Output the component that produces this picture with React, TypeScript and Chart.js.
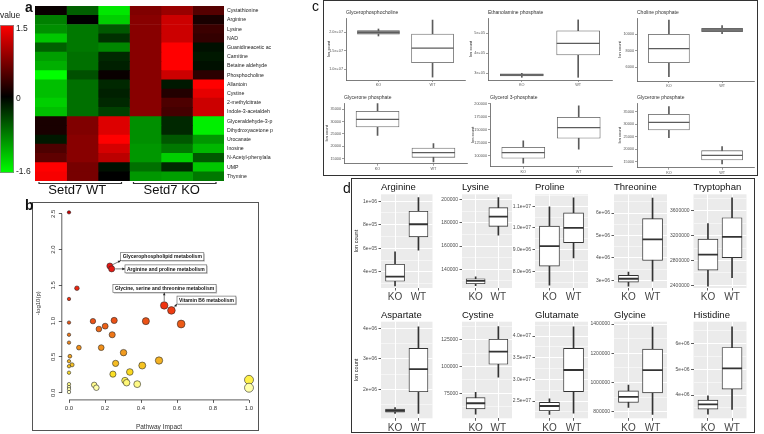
import React, { useEffect, useRef } from "react";
import { Chart, registerables } from "chart.js";

Chart.register(...registerables);
const FONT = '"Liberation Sans", Arial, Helvetica, sans-serif';
Chart.defaults.font.family = FONT;

type Rect = { x: number; y: number; w: number; h: number };

/* ---------------- panel a : heat map ---------------- */
const heatRows = [
  "Cystathionine", "Arginine", "Lysine", "NAD", "Guanidineacetic ac", "Carnitine",
  "Betaine aldehyde", "Phosphocholine", "Allantoin", "Cystine", "2-methylcitrate",
  "Indole-3-acetaldeh", "Glyceraldehyde-3-p", "Dihydroxyacetone p", "Urocanate",
  "Inosine", "N-Acetyl-phenylala", "UMP", "Thymine",
];
const heatSamples = ["WT1", "WT2", "WT3", "KO1", "KO2", "KO3"];
const heatGroups = ["Setd7 WT", "Setd7 KO"];
const heatValues = [
  [0.05, -0.6, -1.45, 0.75, 0.9, 0.5],
  [-0.8, 0.0, -1.3, 0.8, 1.2, 0.15],
  [-0.9, -0.75, -0.55, 0.8, 1.2, 0.35],
  [-1.25, -0.75, -0.3, 0.8, 1.2, 0.3],
  [-0.6, -0.75, -0.85, 0.8, 1.5, -0.1],
  [-1.0, -0.7, -0.25, 0.8, 1.5, -0.15],
  [-1.1, -0.7, -0.2, 0.8, 1.5, -0.1],
  [-1.6, -0.5, 0.05, 0.8, 1.2, 0.25],
  [-1.2, -0.7, -0.25, 0.8, -0.15, 1.5],
  [-1.2, -0.7, -0.2, 0.8, 0.2, 1.35],
  [-1.3, -0.7, -0.25, 0.8, 0.45, 1.2],
  [-1.2, -0.7, -0.4, 0.8, 0.4, 1.2],
  [0.15, 0.75, 1.3, -0.9, -0.25, -1.5],
  [0.15, 0.75, 1.3, -0.9, -0.25, -1.5],
  [-0.15, 0.8, 1.5, -0.9, -0.55, -0.95],
  [0.45, 0.8, 1.25, -0.95, -0.75, -1.15],
  [0.55, 0.8, 1.1, -0.95, -1.3, -0.55],
  [1.5, 0.7, -0.1, -0.7, -0.25, -1.25],
  [1.45, 0.7, 0.0, -0.95, -1.0, -0.75],
];
const heatKeyTicks = [1.5, 0, -1.6];
const heatKeyLabels = ["1.5", "0", "-1.6"];

/* ---------------- panel b : pathway impact ---------------- */
const pathImpact = [
  0, 0.227, 0.237, 0.044, 0, 0.529, 0.569, 0.623, 0.427, 0.133,
  0.251, 0, 0.166, 0.201, 0.24, 0, 0, 0.055, 0.179, 0.303,
  0.5, 0.259, 0.407, 0.005, 0, 0.017, 0, 0, 0.338, 0.244,
  0.311, 0.32, 0.379, 0.14, 0.152, 0, 0, 0, 0, 1.0, 1.0,
];
const pathLogP = [
  2.52, 1.77, 1.73, 1.46, 1.31, 1.22, 1.15, 0.96, 1.0, 1.0,
  1.01, 0.98, 0.89, 0.93, 0.81, 0.81, 0.7, 0.63, 0.63, 0.56,
  0.45, 0.41, 0.38, 0.51, 0.44, 0.39, 0.37, 0.28, 0.29, 0.26,
  0.17, 0.14, 0.12, 0.11, 0.07, 0.12, 0.08, 0.05, 0.01, 0.18, 0.07,
];
const pathTicksX = [0, 0.2, 0.4, 0.6, 0.8, 1.0];
const pathTicksY = [0, 0.5, 1.0, 1.5, 2.0, 2.5];
const annotNames = [
  "Glycerophospholipid metabolism",
  "Arginine and proline metabolism",
  "Glycine, serine and threonine metabolism",
  "Vitamin B6 metabolism",
];
const annotPoint = [1, 2, 5, 6];
const annotBoxX = [0.287, 0.311, 0.244, 0.6];
const annotBoxY = [1.9, 1.73, 1.454, 1.294];
const annotAttach = ["corner", "left", "bottom", "corner"];

/* ---------------- panel c : box plots ---------------- */
const groups = ["KO", "WT"];
const cTitles = [
  "Glycerophosphocholine", "Ethanolamine phosphate", "Choline phosphate",
  "Glycerone phosphate", "Glycerol 3-phosphate", "Glycerone phosphate",
];
const cRanges = [
  [0.711e7, 2.386e7], [2.665e5, 5.765e5], [4355, 11922],
  [12975, 37551], [78700, 201900], [12600, 38480],
];
const cTicks = [
  [1.0e7, 1.5e7, 2.0e7], [3e5, 4e5, 5e5], [6000, 8000, 10000],
  [15000, 20000, 25000, 30000, 35000], [100000, 125000, 150000, 175000, 200000],
  [15000, 20000, 25000, 30000, 35000],
];
const cTickLabels = [
  ["1.0e+07", "1.5e+07", "2.0e+07"], ["3e+05", "4e+05", "5e+05"], ["6000", "8000", "10000"],
  ["15000", "20000", "25000", "30000", "35000"],
  ["100000", "125000", "150000", "175000", "200000"],
  ["15000", "20000", "25000", "30000", "35000"],
];
const cKO = [
  [1.9e7, 1.946e7, 2.0e7, 2.043e7, 2.089e7],
  [2.8e5, 2.87e5, 2.92e5, 2.97e5, 3.0e5],
  [4871, 6552, 8236, 9964, 11680],
  [24473, 27833, 30951, 34190, 37267],
  [85300, 95000, 105800, 116300, 128500],
  [24600, 27680, 30760, 33960, 37000],
];
const cWT = [
  [0.79e7, 1.18e7, 1.57e7, 1.95e7, 2.33e7],
  [2.8e5, 3.92e5, 4.5e5, 5.12e5, 5.67e5],
  [10036, 10276, 10480, 10685, 10997],
  [13662, 15566, 17427, 19330, 21071],
  [112400, 133700, 154300, 174400, 196300],
  [14080, 15680, 17560, 19400, 21000],
];

/* ---------------- panel d : box plots ---------------- */
const dTitles = [
  "Arginine", "Lysine", "Proline", "Threonine", "Tryptophan",
  "Aspartate", "Cystine", "Glutamate", "Glycine", "Histidine",
];
const dRanges = [
  [2.64e5, 1.058e6], [123950, 204380], [7.23e6, 1.1548e7], [2.656e6, 6.839e6], [2.356e6, 3.868e6],
  [1.049e6, 4.216e6], [51590, 142040], [2.101e7, 4.33e7], [7.548e5, 1.4164e6], [3.097e6, 6.841e6],
];
const dTicks = [
  [4e5, 6e5, 8e5, 1e6], [140000, 160000, 180000, 200000], [8e6, 9e6, 1e7, 1.1e7],
  [3e6, 4e6, 5e6, 6e6], [2.4e6, 2.8e6, 3.2e6, 3.6e6],
  [2e6, 3e6, 4e6], [75000, 100000, 125000], [2.5e7, 3e7, 3.5e7, 4e7],
  [8e5, 1e6, 1.2e6, 1.4e6], [4e6, 5e6, 6e6],
];
const dTickLabels = [
  ["4e+05", "6e+05", "8e+05", "1e+06"], ["140000", "160000", "180000", "200000"],
  ["8.0e+06", "9.0e+06", "1.0e+07", "1.1e+07"], ["3e+06", "4e+06", "5e+06", "6e+06"],
  ["2400000", "2800000", "3200000", "3600000"],
  ["2e+06", "3e+06", "4e+06"], ["75000", "100000", "125000"],
  ["2.5e+07", "3.0e+07", "3.5e+07", "4.0e+07"], ["800000", "1000000", "1200000", "1400000"],
  ["4e+06", "5e+06", "6e+06"],
];
const dKO = [
  [2.81e5, 3.21e5, 3.6e5, 4.65e5, 5.7e5],
  [125900, 127600, 130000, 131900, 133600],
  [7.36e6, 8.24e6, 9.16e6, 1.008e7, 1.097e7],
  [2.74e6, 2.92e6, 3.07e6, 3.22e6, 3.37e6],
  [2.386e6, 2.644e6, 2.895e6, 3.144e6, 3.395e6],
  [1.21e6, 1.246e6, 1.3e6, 1.354e6, 1.4e6],
  [55400, 60400, 65700, 71000, 76000],
  [2.19e7, 2.276e7, 2.385e7, 2.47e7, 2.55e7],
  [8.29e5, 8.64e5, 9.02e5, 9.43e5, 9.82e5],
  [3.26e6, 3.45e6, 3.64e6, 3.8e6, 3.97e6],
];
const dWT = [
  [5.84e5, 6.97e5, 8.04e5, 9.14e5, 1.03e6],
  [169200, 176900, 185200, 192900, 201500],
  [8.62e6, 9.32e6, 1.0e7, 1.069e7, 1.138e7],
  [2.96e6, 3.89e6, 4.83e6, 5.75e6, 6.67e6],
  [2.524e6, 2.847e6, 3.18e6, 3.49e6, 3.81e6],
  [1.21e6, 1.92e6, 2.66e6, 3.34e6, 4.05e6],
  [90100, 102200, 114000, 125600, 137500],
  [2.22e7, 2.715e7, 3.215e7, 3.716e7, 4.21e7],
  [7.82e5, 9.29e5, 1.085e6, 1.229e6, 1.38e6],
  [3.44e6, 4.23e6, 5.03e6, 5.84e6, 6.64e6],
];

/* ---------------- layout ---------------- */
const cAreas: Rect[] = [
  { x: 346, y: 18, w: 119, h: 62 },
  { x: 488, y: 18, w: 124, h: 62 },
  { x: 637, y: 18, w: 117, h: 63 },
  { x: 344, y: 103, w: 123, h: 60.7 },
  { x: 490, y: 103, w: 122, h: 63.7 },
  { x: 637, y: 103, w: 117, h: 64.7 },
];
const dColX = [381, 462, 535, 614, 693.5];
const dColW = [51.5, 50, 53, 53, 53];
const dRowY = [194.3, 321.7];
const dRowH = [93.7, 96.6];

function fixArea(c: Rect, a: Rect) {
  return {
    padding: { left: 0, top: a.y - c.y, right: c.x + c.w - a.x - a.w, bottom: 0 },
    yW: a.x - c.x,
    xH: c.y + c.h - a.y - a.h,
  };
}

/* ---------------- colour helpers ---------------- */
const heatMax = 1.5;
const heatMin = -1.6;
function heatColor(v: number) {
  if (v >= 0) return `rgb(${Math.round(255 * Math.min(1, v / heatMax))},0,0)`;
  return `rgb(0,${Math.round(255 * Math.min(1, v / heatMin))},0)`;
}
const pStops: [number, number[]][] = [
  [0, [255, 255, 205]], [0.08, [255, 255, 165]], [0.15, [255, 246, 110]], [0.2, [255, 238, 45]],
  [0.3, [250, 214, 32]], [0.4, [245, 190, 35]], [0.5, [242, 165, 35]], [0.65, [240, 140, 25]],
  [0.85, [238, 112, 22]], [1.0, [235, 82, 22]], [1.2, [240, 52, 15]], [1.5, [238, 36, 15]],
  [1.8, [228, 22, 20]], [2.6, [200, 0, 0]],
];
function pColor(v: number) {
  for (let i = 1; i < pStops.length; i++) {
    if (v <= pStops[i][0]) {
      const [a, ca] = pStops[i - 1];
      const [b, cb] = pStops[i];
      const t = (v - a) / (b - a);
      const c = ca.map((x, k) => Math.round(x + (cb[k] - x) * t));
      return `rgb(${c[0]},${c[1]},${c[2]})`;
    }
  }
  return "rgb(200,0,0)";
}
const bubbleR = (impact: number) => 1.7 + 2.8 * Math.sqrt(impact);

/* ---------------- panel a config ---------------- */
const heatDecor = {
  id: "heatDecor",
  afterDraw(chart: any) {
    const { ctx, chartArea: a } = chart;
    ctx.save();
    const kx = 0, ky = 25, kw = 14, kh = 148;
    const g = ctx.createLinearGradient(0, ky, 0, ky + kh);
    g.addColorStop(0, heatColor(heatMax));
    g.addColorStop(heatMax / (heatMax - heatMin), heatColor(0));
    g.addColorStop(1, heatColor(heatMin));
    ctx.fillStyle = g;
    ctx.fillRect(kx, ky, kw, kh);
    ctx.strokeStyle = "#888";
    ctx.lineWidth = 0.8;
    ctx.strokeRect(kx + 0.4, ky + 0.4, kw - 0.8, kh - 0.8);
    ctx.fillStyle = "#222";
    ctx.font = `8.5px ${FONT}`;
    ctx.textBaseline = "middle";
    ctx.textAlign = "left";
    ctx.fillText("value", 0, 16);
    heatKeyTicks.forEach((v, i) => {
      const yy = ky + 4 + ((heatMax - v) / (heatMax - heatMin)) * (kh - 5);
      ctx.fillText(heatKeyLabels[i], kx + kw + 2, yy);
    });
    const colW = a.width / heatSamples.length;
    heatGroups.forEach((name, gi) => {
      const x0 = a.left + gi * 3 * colW + 4;
      const x1 = a.left + (gi * 3 + 3) * colW - 8;
      const yb = a.bottom + 2.5;
      ctx.strokeStyle = "#333";
      ctx.lineWidth = 1.2;
      ctx.beginPath();
      ctx.moveTo(x0, yb - 1.5);
      ctx.lineTo(x0, yb);
      ctx.lineTo(x1, yb);
      ctx.lineTo(x1, yb - 1.5);
      ctx.stroke();
      ctx.fillStyle = "#111";
      ctx.font = `13px ${FONT}`;
      ctx.textAlign = "center";
      ctx.textBaseline = "alphabetic";
      ctx.fillText(name, (x0 + x1) / 2 - 3, a.bottom + 13);
    });
    ctx.restore();
  },
};

function heatConfig() {
  return {
    type: "bar",
    data: {
      labels: heatRows,
      datasets: heatSamples.map((s, j) => ({
        label: s,
        data: heatRows.map(() => [j, j + 1]),
        backgroundColor: heatValues.map((r) => heatColor(r[j])),
        borderWidth: 0,
        barPercentage: 1,
        categoryPercentage: 1,
        grouped: false,
      })),
    },
    options: {
      indexAxis: "y",
      responsive: false,
      animation: false,
      devicePixelRatio: 1,
      events: [],
      layout: { padding: { left: 35, top: 0, right: 0, bottom: 19 }, autoPadding: false },
      plugins: { legend: { display: false }, tooltip: { enabled: false } },
      scales: {
        x: { type: "linear", min: 0, max: heatSamples.length, display: false },
        y: {
          type: "category",
          position: "right",
          offset: true,
          grid: { display: false, drawTicks: false, tickLength: 0 },
          border: { display: false },
          ticks: { font: { size: 5.2 }, color: "#222", padding: 3, autoSkip: false },
          afterFit: (s: any) => { s.width = 86; },
        },
      },
    },
    plugins: [heatDecor],
  };
}

/* ---------------- panel b config ---------------- */
function drawArrow(ctx: any, x0: number, y0: number, x1: number, y1: number) {
  const ang = Math.atan2(y1 - y0, x1 - x0);
  ctx.beginPath();
  ctx.moveTo(x0, y0);
  ctx.lineTo(x1, y1);
  ctx.stroke();
  ctx.beginPath();
  ctx.moveTo(x1, y1);
  ctx.lineTo(x1 - 3 * Math.cos(ang - 0.45), y1 - 3 * Math.sin(ang - 0.45));
  ctx.lineTo(x1 - 3 * Math.cos(ang + 0.45), y1 - 3 * Math.sin(ang + 0.45));
  ctx.closePath();
  ctx.fill();
}

const pathDecor = {
  id: "pathDecor",
  afterDraw(chart: any) {
    const { ctx, chartArea: a } = chart;
    const x = chart.scales.x, y = chart.scales.y;
    ctx.save();
    ctx.strokeStyle = "#333";
    ctx.lineWidth = 0.8;
    ctx.beginPath();
    ctx.moveTo(x.getPixelForValue(pathTicksX[0]), a.bottom);
    ctx.lineTo(x.getPixelForValue(pathTicksX[pathTicksX.length - 1]), a.bottom);
    ctx.moveTo(a.left, y.getPixelForValue(pathTicksY[0]));
    ctx.lineTo(a.left, y.getPixelForValue(pathTicksY[pathTicksY.length - 1]));
    ctx.stroke();

    ctx.font = `bold 5px ${FONT}`;
    annotNames.forEach((name, k) => {
      const i = annotPoint[k];
      const px = x.getPixelForValue(pathImpact[i]);
      const py = y.getPixelForValue(pathLogP[i]);
      const r = bubbleR(pathImpact[i]);
      const bx = x.getPixelForValue(annotBoxX[k]);
      const by = y.getPixelForValue(annotBoxY[k]);
      const bw = ctx.measureText(name).width + 4;
      const bh = 8;
      ctx.fillStyle = "#c8c8c8";
      ctx.fillRect(bx + 1, by - bh / 2 + 1, bw, bh);
      ctx.fillStyle = "#fff";
      ctx.fillRect(bx, by - bh / 2, bw, bh);
      ctx.strokeStyle = "#555";
      ctx.lineWidth = 0.6;
      ctx.strokeRect(bx, by - bh / 2, bw, bh);
      ctx.fillStyle = "#111";
      ctx.textBaseline = "middle";
      ctx.textAlign = "left";
      ctx.fillText(name, bx + 2, by + 0.3);
      let tx = bx, ty = by;
      if (annotAttach[k] === "corner") { tx = bx; ty = by + bh / 2; }
      else if (annotAttach[k] === "bottom") { tx = px; ty = by + bh / 2; }
      const d = Math.hypot(tx - px, ty - py) || 1;
      const sx = px + ((tx - px) / d) * (r + 0.5);
      const sy = py + ((ty - py) / d) * (r + 0.5);
      ctx.strokeStyle = "#222";
      ctx.fillStyle = "#222";
      ctx.lineWidth = 0.6;
      drawArrow(ctx, sx, sy, tx, ty);
    });
    ctx.restore();
  },
};

function pathConfig() {
  const canvas = { x: 32, y: 202, w: 227, h: 229 };
  const area = { x: 61.8, y: 205.5, w: 194.4, h: 194.4 };
  const f = fixArea(canvas, area);
  return {
    type: "bubble",
    data: {
      datasets: [
        {
          data: pathImpact.map((v, i) => ({ x: v, y: pathLogP[i], r: bubbleR(v) })),
          backgroundColor: pathLogP.map(pColor),
          borderColor: "#2a2a2a",
          borderWidth: 0.6,
        },
      ],
    },
    options: {
      responsive: false,
      animation: false,
      devicePixelRatio: 1,
      events: [],
      layout: { padding: f.padding, autoPadding: false },
      plugins: { legend: { display: false }, tooltip: { enabled: false } },
      scales: {
        x: {
          type: "linear",
          min: -0.04,
          max: 1.04,
          afterBuildTicks: (s: any) => { s.ticks = pathTicksX.map((v) => ({ value: v })); },
          afterFit: (s: any) => { s.height = f.xH; },
          grid: { drawOnChartArea: false, drawTicks: true, tickLength: 3, tickColor: "#333", lineWidth: 0.8 },
          border: { display: false },
          ticks: {
            callback: (v: any) => Number(v).toFixed(1),
            font: { size: 6 },
            color: "#333",
            padding: 2,
            autoSkip: false,
            maxRotation: 0,
            minRotation: 0,
          },
          title: { display: true, text: "Pathway Impact", font: { size: 6.5 }, color: "#333", padding: { top: 0, bottom: 0 } },
        },
        y: {
          type: "linear",
          min: -0.1,
          max: 2.6,
          afterBuildTicks: (s: any) => { s.ticks = pathTicksY.map((v) => ({ value: v })); },
          afterFit: (s: any) => { s.width = f.yW; },
          grid: { drawOnChartArea: false, drawTicks: true, tickLength: 3, tickColor: "#333", lineWidth: 0.8 },
          border: { display: false },
          ticks: {
            callback: (v: any) => Number(v).toFixed(1),
            font: { size: 6 },
            color: "#333",
            padding: 1,
            autoSkip: false,
            minRotation: 90,
            maxRotation: 90,
            crossAlign: "center",
          },
          title: { display: true, text: "-log10(p)", font: { size: 6 }, color: "#333", padding: { top: 2.4, bottom: 0 } },
        },
      },
    },
    plugins: [pathDecor],
  };
}

/* ---------------- box plot config (panels c & d) ---------------- */
type BoxOpts = {
  canvas: Rect; area: Rect; gg: boolean; title: string; range: number[];
  ticks: number[]; labels: string[]; ko: number[]; wt: number[]; yTitle: string;
};

function boxConfig(o: BoxOpts) {
  const f = fixArea(o.canvas, o.area);
  const [lo, hi] = o.range;
  const step = o.ticks[1] - o.ticks[0];
  const eps = Math.abs(step) * 1e-6;
  const tickVals: number[] = [];
  if (o.gg) {
    for (let k = -2; k < 40; k++) {
      const v = o.ticks[0] + (k * step) / 2;
      if (v > lo && v < hi) tickVals.push(v);
    }
  } else tickVals.push(...o.ticks);
  const majorIdx = (v: number) => o.ticks.findIndex((t) => Math.abs(t - v) < eps);
  const ink = o.gg ? "#333333" : "#5c5c5c";
  const boxW = Math.round(o.area.w * (o.gg ? 0.37 : 0.35));
  const stats = [o.ko, o.wt];
  const pxPer = o.area.h / (hi - lo);
  const boxFill = stats.map((s) => ((s[3] - s[1]) * pxPer < 4 ? "#8c8c8c" : "#ffffff"));
  const bg = {
    id: "panelBg",
    beforeDraw(chart: any) {
      if (!o.gg) return;
      const { ctx, chartArea: a } = chart;
      ctx.save();
      ctx.fillStyle = "#EBEBEB";
      ctx.fillRect(a.left, a.top, a.width, a.height);
      ctx.restore();
    },
  };
  const ttl = {
    id: "panelTitle",
    afterDraw(chart: any) {
      const { ctx, chartArea: a } = chart;
      ctx.save();
      ctx.font = `${o.gg ? 9.5 : 5}px ${FONT}`;
      ctx.fillStyle = o.gg ? "#111" : "#333";
      ctx.textAlign = "left";
      ctx.textBaseline = "alphabetic";
      ctx.fillText(o.title, a.left, a.top - 4);
      ctx.restore();
    },
  };
  return {
    type: "bar",
    data: {
      datasets: [
        {
          type: "line",
          data: stats.map((s, i) => ({ x: i + 1, y: s[2] })),
          showLine: false,
          pointStyle: "line",
          pointRadius: boxW / 2,
          pointHoverRadius: boxW / 2,
          pointBorderColor: ink,
          pointBorderWidth: o.gg ? 1.8 : 1.2,
          borderColor: ink,
          order: 1,
        },
        {
          type: "bar",
          data: stats.map((s, i) => ({ x: i + 1, y: [s[1], s[3]] })),
          backgroundColor: boxFill,
          borderColor: ink,
          borderWidth: o.gg ? 0.9 : 0.8,
          borderSkipped: false,
          barThickness: boxW,
          grouped: false,
          order: 2,
        },
        {
          type: "bar",
          data: stats.map((s, i) => ({ x: i + 1, y: [s[0], s[4]] })),
          backgroundColor: ink,
          borderWidth: 0,
          barThickness: 1,
          grouped: false,
          order: 3,
        },
      ],
    },
    options: {
      responsive: false,
      animation: false,
      devicePixelRatio: 1,
      events: [],
      layout: { padding: f.padding, autoPadding: false },
      plugins: { legend: { display: false }, tooltip: { enabled: false } },
      scales: {
        x: {
          type: "linear",
          min: 0.4,
          max: 2.6,
          offset: false,
          afterBuildTicks: (s: any) => { s.ticks = groups.map((_, i) => ({ value: i + 1 })); },
          afterFit: (s: any) => { s.height = f.xH; },
          ticks: {
            callback: (v: any) => groups[Math.round(Number(v)) - 1] ?? "",
            font: { size: o.gg ? 10 : 3.8 },
            color: o.gg ? "#444" : "#555",
            padding: 1,
            autoSkip: false,
            maxRotation: 0,
            minRotation: 0,
          },
          grid: o.gg
            ? { color: "#ffffff", lineWidth: 1, drawTicks: true, tickLength: 2.5, tickColor: "#333", tickWidth: 0.8, offset: false }
            : { drawOnChartArea: false, drawTicks: true, tickLength: 2, tickColor: ink, lineWidth: 0.6, offset: false },
          border: o.gg ? { display: false } : { display: true, color: ink, width: 0.8 },
        },
        y: {
          type: "linear",
          min: lo,
          max: hi,
          afterBuildTicks: (s: any) => { s.ticks = tickVals.map((v) => ({ value: v })); },
          afterFit: (s: any) => { s.width = f.yW; },
          ticks: {
            autoSkip: false,
            callback: (v: any) => {
              const i = majorIdx(Number(v));
              return i < 0 ? "" : o.labels[i];
            },
            font: { size: o.gg ? 5 : 3.8 },
            color: o.gg ? "#4D4D4D" : "#555",
            padding: o.gg ? 1.5 : 1,
          },
          grid: o.gg
            ? {
                color: "#ffffff",
                lineWidth: (c: any) => (c.tick && majorIdx(c.tick.value) >= 0 ? 1 : 0.5),
                drawTicks: true,
                tickLength: 2.5,
                tickWidth: 0.8,
                tickColor: (c: any) => (c.tick && majorIdx(c.tick.value) >= 0 ? "#333" : "rgba(0,0,0,0)"),
              }
            : { drawOnChartArea: false, drawTicks: true, tickLength: 2, tickColor: ink, lineWidth: 0.6 },
          border: o.gg ? { display: false } : { display: true, color: ink, width: 0.8 },
          title: {
            display: !!o.yTitle,
            text: o.yTitle,
            font: { size: o.gg ? 5.5 : 4 },
            color: "#222",
            padding: { top: o.gg ? 2.4 : 4.6, bottom: 0 },
          },
        },
      },
    },
    plugins: [bg, ttl],
  };
}

/* ---------------- React ---------------- */
function ChartBox({ rect, config }: { rect: Rect; config: () => any }) {
  const ref = useRef<HTMLCanvasElement | null>(null);
  useEffect(() => {
    if (!ref.current) return;
    const chart = new Chart(ref.current, config());
    return () => chart.destroy();
  }, []);
  return (
    <canvas
      ref={ref}
      width={rect.w}
      height={rect.h}
      style={{ position: "absolute", left: rect.x, top: rect.y, width: rect.w, height: rect.h }}
    />
  );
}

function cCanvas(a: Rect): Rect {
  const x = Math.floor(a.x - 24);
  const y = Math.floor(a.y - 10);
  return { x, y, w: Math.ceil(a.x + a.w + 2 - x), h: Math.ceil(a.y + a.h + 8 - y) };
}
function dCanvas(a: Rect): Rect {
  const x = Math.floor(a.x - 30);
  const y = Math.floor(a.y - 14);
  return { x, y, w: Math.ceil(a.x + a.w + 3 - x), h: Math.min(434 - y, Math.ceil(a.y + a.h + 16 - y)) };
}

const letter = (t: string, left: number, top: number, bold: boolean) => (
  <div
    key={t}
    style={{
      position: "absolute", left, top, fontFamily: FONT, fontSize: 14,
      fontWeight: bold ? "bold" : "normal", lineHeight: "14px", color: "#111",
    }}
  >
    {t}
  </div>
);

export default function App() {
  const dAreas: Rect[] = [];
  dRowY.forEach((y, r) => dColX.forEach((x, c) => dAreas.push({ x, y, w: dColW[c], h: dRowH[r] })));
  return (
    <div style={{ position: "absolute", left: 0, top: 0, width: 764, height: 434, overflow: "hidden", background: "#fff" }}>
      <ChartBox rect={{ x: 0, y: 0, w: 310, h: 200 }} config={heatConfig} />
      <ChartBox rect={{ x: 32, y: 202, w: 227, h: 229 }} config={pathConfig} />
      {cAreas.map((a, i) => {
        const cv = cCanvas(a);
        return (
          <ChartBox
            key={"c" + i}
            rect={cv}
            config={() =>
              boxConfig({
                canvas: cv, area: a, gg: false, title: cTitles[i], range: cRanges[i],
                ticks: cTicks[i], labels: cTickLabels[i], ko: cKO[i], wt: cWT[i], yTitle: "Ion count",
              })
            }
          />
        );
      })}
      {dAreas.map((a, i) => {
        const cv = dCanvas(a);
        return (
          <ChartBox
            key={"d" + i}
            rect={cv}
            config={() =>
              boxConfig({
                canvas: cv, area: a, gg: true, title: dTitles[i], range: dRanges[i],
                ticks: dTicks[i], labels: dTickLabels[i], ko: dKO[i], wt: dWT[i],
                yTitle: i % 5 === 0 ? "Ion count" : "",
              })
            }
          />
        );
      })}
      <div style={{ position: "absolute", left: 32, top: 202, width: 227, height: 229, border: "1px solid #555", boxSizing: "border-box" }} />
      <div style={{ position: "absolute", left: 323, top: 0, width: 435, height: 176, border: "1.5px solid #333", boxSizing: "border-box" }} />
      <div style={{ position: "absolute", left: 351, top: 178, width: 404, height: 255, border: "1.2px solid #333", boxSizing: "border-box" }} />
      {letter("a", 25, 0, true)}
      {letter("b", 25, 198, true)}
      {letter("c", 312, -1, false)}
      {letter("d", 343, 181, false)}
    </div>
  );
}
